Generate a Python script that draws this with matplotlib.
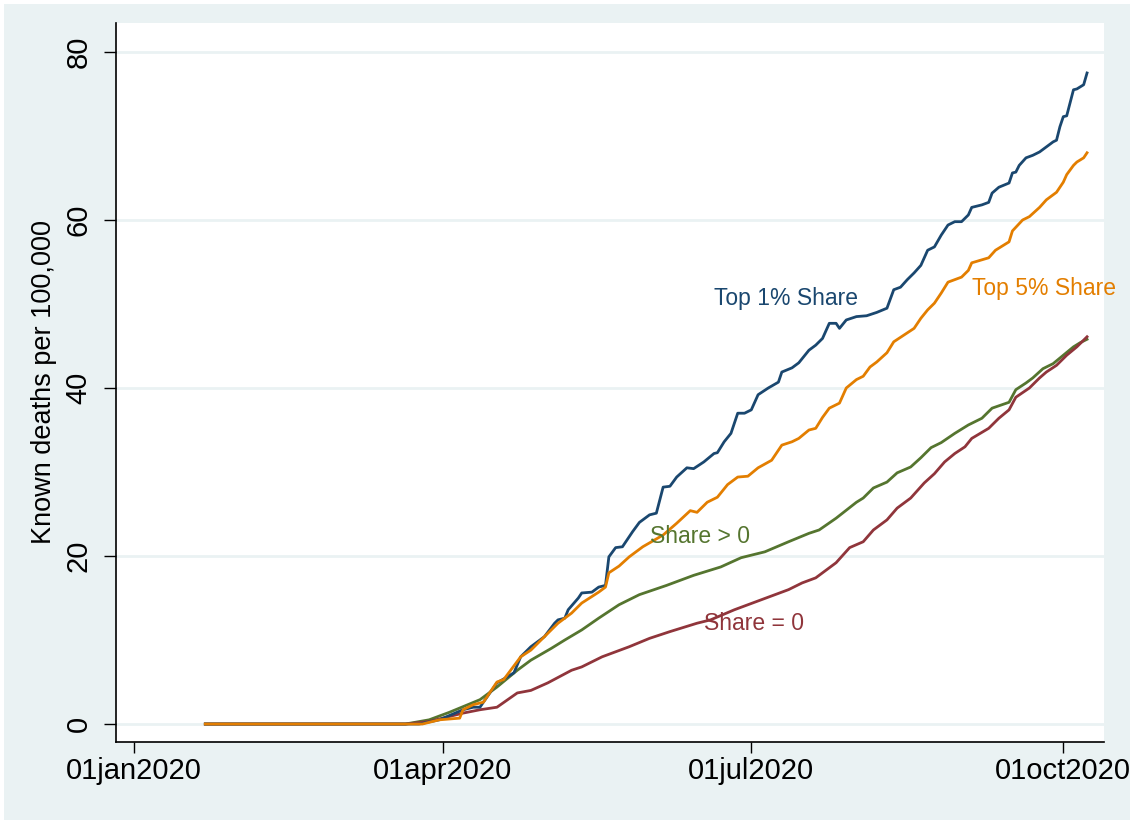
import numpy as np
import matplotlib
matplotlib.use("Agg")
import matplotlib.pyplot as plt
from matplotlib.patches import Rectangle

plt.rcParams['font.family'] = ['Liberation Sans', 'DejaVu Sans']

# days since 01jan2020
top1_days = [21, 84, 90, 97, 100, 102, 103, 107, 110, 112, 114, 117, 121, 124, 125, 127, 128,
             131, 132, 135, 137, 139, 140, 142, 144, 147, 149, 152, 154, 156, 158, 160, 163,
             165, 168, 171, 172, 174, 176, 178, 180, 182, 184, 187, 190, 191, 194, 196, 199,
             201, 203, 205, 207, 208, 210, 213, 216, 219, 222, 224, 226, 228, 230, 232, 234,
             236, 238, 240, 242, 244, 246, 247, 250, 252, 253, 255, 258, 259, 260, 261, 263,
             265, 267, 269, 271, 272, 273, 274, 275, 277, 278, 280, 281]
top1_vals = [0, 0, 0.5, 1.7, 2.0, 2.0, 2.6, 4.9, 5.6, 6.1, 8.0, 9.2, 10.4, 12.0, 12.4, 12.6, 13.6,
             15.0, 15.6, 15.7, 16.3, 16.5, 19.9, 21.0, 21.1, 22.9, 24.0, 24.9, 25.1, 28.2, 28.3,
             29.4, 30.5, 30.4, 31.2, 32.2, 32.3, 33.6, 34.6, 37.0, 37.0, 37.4, 39.2, 40.0, 40.7,
             41.9, 42.4, 43.0, 44.5, 45.1, 45.9, 47.7, 47.7, 47.1, 48.1, 48.5, 48.6, 49.0, 49.5,
             51.7, 52.0, 52.9, 53.7, 54.6, 56.4, 56.8, 58.2, 59.4, 59.8, 59.8, 60.6, 61.5, 61.8,
             62.1, 63.2, 63.9, 64.4, 65.6, 65.7, 66.5, 67.4, 67.7, 68.1, 68.7, 69.3, 69.5, 71.1,
             72.3, 72.4, 75.5, 75.6, 76.1, 77.5]

top5_days = [21, 85, 90, 96, 97, 100, 103, 107, 109, 114, 117, 122, 125, 129, 132, 137, 139, 140,
             143, 146, 150, 156, 160, 164, 166, 169, 172, 175, 178, 181, 184, 188, 189, 191, 194,
             196, 199, 201, 203, 205, 208, 210, 213, 215, 217, 219, 222, 224, 227, 230, 232, 234,
             236, 238, 240, 244, 246, 247, 252, 254, 258, 259, 262, 264, 267, 269, 272, 274, 275,
             277, 278, 280, 281]
top5_vals = [0, 0, 0.5, 0.7, 1.7, 2.3, 2.6, 5.0, 5.3, 8.0, 8.8, 10.8, 12.0, 13.2, 14.4, 15.7, 16.3,
             18.0, 18.8, 19.9, 21.1, 22.5, 23.9, 25.4, 25.2, 26.4, 27.0, 28.5, 29.4, 29.5, 30.5,
             31.4, 32.0, 33.2, 33.6, 34.0, 35.0, 35.2, 36.5, 37.6, 38.2, 40.0, 41.0, 41.4, 42.5,
             43.1, 44.2, 45.5, 46.3, 47.1, 48.3, 49.3, 50.1, 51.3, 52.6, 53.2, 54.0, 54.9, 55.5,
             56.4, 57.4, 58.7, 60.0, 60.4, 61.5, 62.4, 63.3, 64.5, 65.4, 66.5, 66.9, 67.4, 68.0]

pos_days = [21, 80, 87, 93, 102, 107, 113, 117, 123, 127, 132, 137, 143, 149, 157, 165, 173, 179,
            186, 193, 199, 202, 207, 213, 215, 218, 222, 225, 229, 232, 235, 238, 242, 246, 250,
            253, 258, 260, 263, 265, 268, 271, 274, 277, 279, 281]
pos_vals = [0, 0, 0.5, 1.4, 2.9, 4.4, 6.4, 7.6, 9.0, 10.0, 11.2, 12.6, 14.2, 15.4, 16.5, 17.7,
            18.7, 19.8, 20.5, 21.7, 22.7, 23.1, 24.5, 26.4, 26.9, 28.1, 28.8, 29.9, 30.6, 31.7,
            32.9, 33.5, 34.6, 35.6, 36.4, 37.6, 38.3, 39.8, 40.6, 41.2, 42.3, 42.9, 43.9, 44.9,
            45.4, 45.8]

zero_days = [21, 80, 87, 97, 102, 107, 113, 117, 122, 129, 132, 138, 146, 152, 158, 166, 170, 177,
             185, 193, 197, 201, 207, 211, 215, 218, 222, 225, 229, 233, 236, 239, 242, 245, 247,
             252, 255, 258, 260, 264, 267, 269, 272, 275, 278, 281]
zero_vals = [0, 0, 0.3, 1.3, 1.7, 2.0, 3.7, 4.0, 4.9, 6.4, 6.8, 8.0, 9.2, 10.2, 11.0, 12.0, 12.4,
             13.6, 14.8, 16.0, 16.8, 17.4, 19.2, 21.0, 21.7, 23.1, 24.3, 25.7, 26.9, 28.7, 29.8,
             31.2, 32.2, 33.0, 34.0, 35.2, 36.4, 37.4, 38.9, 40.0, 41.2, 41.9, 42.7, 43.9, 44.9,
             46.1]

start = np.datetime64('2020-01-01')


def to_dates(days):
    return start + np.array(days, dtype='timedelta64[D]')


navy = '#1a476f'
maroon = '#90353b'
green = '#55752f'
orange = '#e37e00'
bg = '#eaf2f3'

fig = plt.figure(figsize=(11.34, 8.24), dpi=100, facecolor='white')
fig.patches.append(Rectangle((4 / 1134, 4 / 824), 1126 / 1134, 816 / 824,
                             transform=fig.transFigure, facecolor=bg, edgecolor='none', zorder=-10))
ax = fig.add_axes([116 / 1134, 82 / 824, 988 / 1134, 719 / 824])
ax.set_facecolor('white')

ax.plot(to_dates(pos_days), pos_vals, color=green, lw=2)
ax.plot(to_dates(zero_days), zero_vals, color=maroon, lw=2)
ax.plot(to_dates(top1_days), top1_vals, color=navy, lw=2)
ax.plot(to_dates(top5_days), top5_vals, color=orange, lw=2)

ax.text(start + np.timedelta64(171, 'D'), 50.6, 'Top 1% Share', color=navy, fontsize=16.5, va='center')
ax.text(start + np.timedelta64(247, 'D'), 51.9, 'Top 5% Share', color=orange, fontsize=16.5, va='center')
ax.text(start + np.timedelta64(152, 'D'), 22.3, 'Share > 0', color=green, fontsize=16.5, va='center')
ax.text(start + np.timedelta64(168, 'D'), 12.0, 'Share = 0', color=maroon, fontsize=16.5, va='center')

ax.set_xlim(start - np.timedelta64(5, 'D') - np.timedelta64(8, 'h'),
            start + np.timedelta64(286, 'D'))
ax.set_ylim(-2.14, 83.45)

xt = [np.datetime64('2020-01-01'), np.datetime64('2020-04-01'),
      np.datetime64('2020-07-01'), np.datetime64('2020-10-01')]
ax.set_xticks(xt)
ax.set_xticklabels(['01jan2020', '01apr2020', '01jul2020', '01oct2020'])
ax.set_yticks([0, 20, 40, 60, 80])
ax.set_yticklabels(['0', '20', '40', '60', '80'], rotation=90, va='center')

ax.grid(axis='y', color=bg, lw=2)
ax.set_axisbelow(True)
for s in ['top', 'right']:
    ax.spines[s].set_visible(False)
for s in ['left', 'bottom']:
    ax.spines[s].set_color('black')
    ax.spines[s].set_linewidth(1.2)
ax.tick_params(axis='x', length=8, width=1, labelsize=21, pad=3)
ax.tick_params(axis='y', length=9, width=1, labelsize=21, pad=8)
ax.set_ylabel('Known deaths per 100,000', fontsize=19.5, labelpad=5)

fig.savefig('out.png', dpi=100, facecolor=fig.get_facecolor())
